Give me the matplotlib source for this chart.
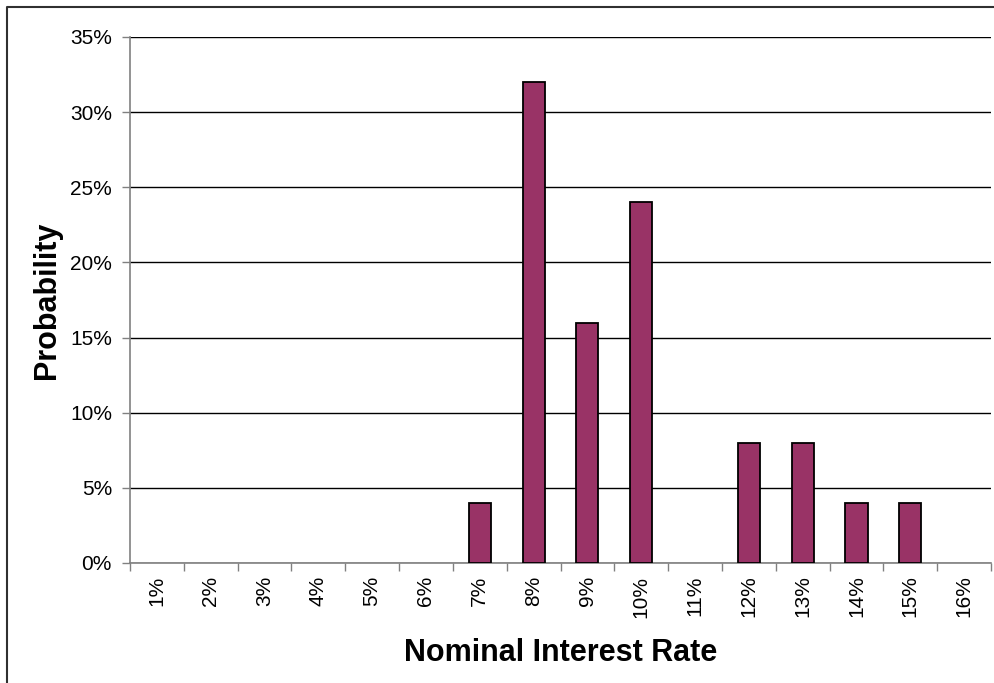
import matplotlib
matplotlib.use("Agg")
import matplotlib.pyplot as plt
from matplotlib.lines import Line2D
from matplotlib.ticker import FixedLocator, PercentFormatter

plt.rcParams['font.family'] = ['Liberation Sans', 'DejaVu Sans']

rates = ["1%", "2%", "3%", "4%", "5%", "6%", "7%", "8%",
         "9%", "10%", "11%", "12%", "13%", "14%", "15%", "16%"]
probability = [0, 0, 0, 0, 0, 0, 4, 32, 16, 24, 0, 8, 8, 4, 4, 0]

fig = plt.figure(figsize=(9.95, 6.83), dpi=100)
ax = fig.add_axes([130 / 995, 120 / 683, 861 / 995, 526 / 683])

x = list(range(len(rates)))
edges = ["black" if p > 0 else "none" for p in probability]
ax.bar(x, probability, width=0.41, color="#993366", edgecolor=edges,
       linewidth=1.3, zorder=3)

ax.set_xlim(-0.5, len(rates) - 0.5)
ax.set_ylim(0, 35)
ax.set_yticks(range(0, 36, 5))
ax.yaxis.set_major_formatter(PercentFormatter(decimals=0))
ax.yaxis.grid(True, color="black", linewidth=1.0, zorder=0)

ax.set_xticks(x)
ax.set_xticklabels(rates, rotation=90, fontsize=15)
ax.tick_params(axis="x", which="major", length=0, pad=9)
ax.xaxis.set_minor_locator(FixedLocator([i - 0.5 for i in range(len(rates) + 1)]))
ax.tick_params(axis="x", which="minor", length=6, width=1, color="#808080")
ax.tick_params(axis="y", length=6, width=1, color="#808080", labelsize=15, pad=7)

for side in ("top", "right"):
    ax.spines[side].set_visible(False)
for side in ("left", "bottom"):
    ax.spines[side].set_color("#808080")
    ax.spines[side].set_linewidth(1.2)

ax.set_xlabel("Nominal Interest Rate", fontsize=22, fontweight="bold", labelpad=15)
ax.set_ylabel("Probability", fontsize=22, fontweight="bold", labelpad=6)

# Chart-area frame (open on the right and bottom)
fig.add_artist(Line2D([7 / 995, 7 / 995, 1.0], [0.0, 1 - 7 / 683, 1 - 7 / 683],
                      transform=fig.transFigure, color="#303030", linewidth=1.5))

fig.savefig("out.png", dpi=100)
